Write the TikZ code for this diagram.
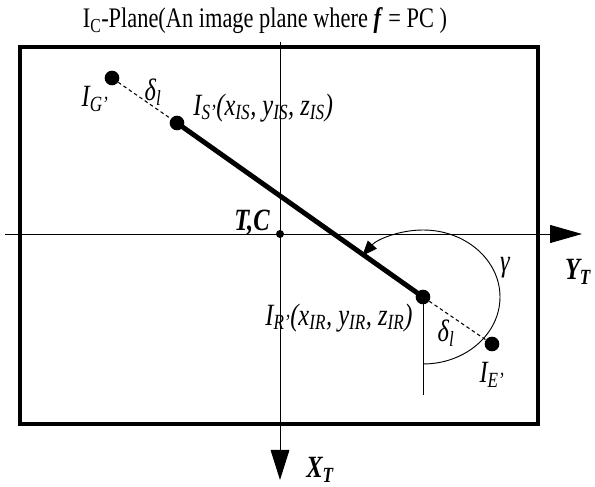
\documentclass[tikz,border=0pt]{standalone}
\usepackage{fontspec}
\setmainfont{Liberation Serif}
\usetikzlibrary{arrows.meta}
\newcommand{\tallt}[1]{\scalebox{0.95}[1.2]{#1}}

\begin{document}
\begin{tikzpicture}[x=0.03cm,y=0.03cm,
 frame/.style={line width=2.6pt},
 axis/.style={line width=0.8pt},
 dashline/.style={dash pattern=on 3pt off 2.5pt,line width=0.9pt},
 dot/.style={circle,fill=black,inner sep=0pt,minimum size=4.4mm},
 lbl/.style={font=\fontsize{22}{26}\selectfont\itshape,inner sep=1pt},
 axlbl/.style={font=\fontsize{22}{26}\selectfont\bfseries\itshape,inner sep=1pt}]
\useasboundingbox (0,0) rectangle (595,487);
\draw[frame] (20,63) rectangle (538,440);
% axes
\coordinate (TC) at (280,253);
\coordinate (xstart) at (280,445);
\coordinate (xend) at (280,7);
\coordinate (ystart) at (5,253);
\coordinate (yend) at (582,253);
\draw[axis,-{Triangle[length=9mm,width=5.6mm]}] (xstart) -- (xend);
\draw[axis,-{Triangle[length=9.6mm,width=5.4mm]}] (ystart) -- (yend);
\node[circle,fill=black,inner sep=0pt,minimum size=2.4mm] (tc) at (TC) {};
% points
\node[dot] (IG) at (112,409) {};
\node[dot] (IS) at (177,364) {};
\node[dot] (IR) at (423,190) {};
\node[dot] (IE) at (492,143) {};
\coordinate (down) at (423,92);
\draw[dashline] (IG) -- (IS);
\draw[dashline] (IR) -- (IE);
\draw[line width=4.2pt] (IS.center) -- (IR.center);
\draw[axis] (IR.center) -- (down);
\draw[axis,-{Triangle[length=4.5mm,width=3.6mm]}] (IR.center) ++(0,-67) arc[start angle=-90,end angle=142,x radius=77,y radius=67];
% labels
\node[font=\fontsize{21}{25}\selectfont] (title) at (265,466) {\scalebox{0.91}[1.15]{I\textsubscript{C}-Plane(An image plane where \textbf{\textit{f}} = PC )}};
\node[axlbl,anchor=east] (tclbl) at (271,264) {\tallt{T,C}};
\node[lbl] (iglbl) at (95,388) {\tallt{I\textsubscript{G'}}};
\node[lbl] (d1) at (153,395) {\tallt{δ\textsubscript{l}}};
\node[lbl,anchor=west] (islbl) at (192,379) {\tallt{I\textsubscript{S'}(x\textsubscript{IS}, y\textsubscript{IS}, z\textsubscript{IS})}};
\node[lbl,anchor=east] (irlbl) at (414,169) {\tallt{I\textsubscript{R'}(x\textsubscript{IR}, y\textsubscript{IR}, z\textsubscript{IR})}};
\node[lbl] (d2) at (446,154) {\tallt{δ\textsubscript{l}}};
\node[lbl] (ielbl) at (492,112) {\tallt{I\textsubscript{E'}}};
\node[lbl] (gam) at (505,219) {\tallt{γ}};
\node[axlbl] (ylbl) at (578,215) {\tallt{Y\textsubscript{T}}};
\node[axlbl] (xlbl) at (320,17) {\tallt{X\textsubscript{T}}};
\end{tikzpicture}
\end{document}
